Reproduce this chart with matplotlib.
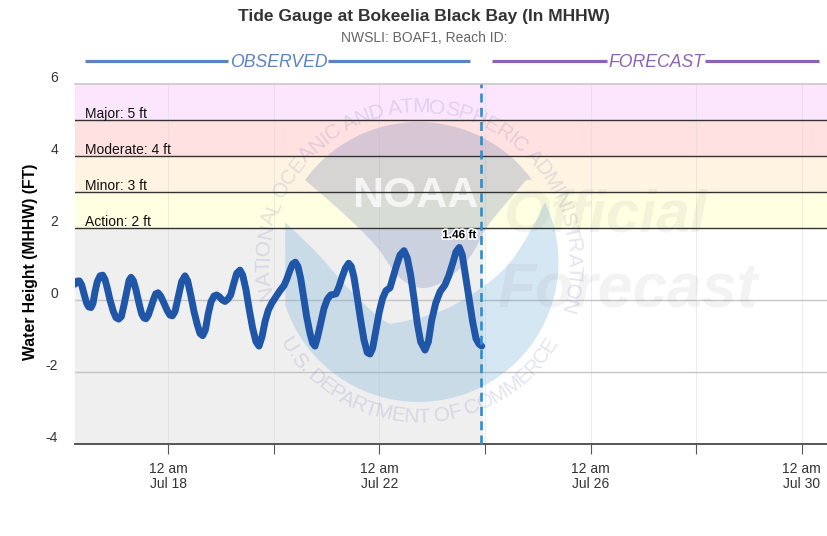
import numpy as np
import matplotlib
matplotlib.use('Agg')
import matplotlib.pyplot as plt
from matplotlib.transforms import Affine2D, ScaledTranslation
from matplotlib.lines import Line2D
from matplotlib.font_manager import FontProperties
from matplotlib.textpath import text_to_path
import matplotlib.patheffects as pe

plt.rcParams['font.family'] = ['Liberation Sans', 'DejaVu Sans']

# days since 12 am Jul 18
obs_days = [-1.765,-1.733,-1.683,-1.639,-1.594,-1.544,-1.506,-1.462,-1.424,-1.386,-1.342,-1.291,-1.241,-1.197,-1.152,-1.102,
            -1.039,-0.988,-0.938,-0.887,-0.837,-0.786,-0.742,-0.704,-0.660,-0.610,-0.553,-0.502,-0.458,-0.420,-0.376,-0.332,
            -0.281,-0.237,-0.193,-0.142,-0.079,-0.016,0.034,0.079,0.129,0.192,0.255,0.318,0.369,0.426,0.489,0.552,
            0.603,0.653,0.704,0.760,0.811,0.868,0.918,0.969,1.026,1.076,1.127,1.184,1.234,1.297,1.360,1.411,
            1.474,1.537,1.600,1.663,1.720,1.777,1.834,1.897,1.960,2.000,2.054,2.117,2.193,2.244,2.307,2.357,
            2.408,2.458,2.509,2.559,2.622,2.686,2.736,2.780,2.831,2.888,2.951,3.014,3.077,3.178,3.235,3.292,
            3.355,3.418,3.468,3.519,3.582,3.645,3.708,3.771,3.822,3.872,3.936,3.999,4.062,4.125,4.201,4.264,
            4.327,4.390,4.466,4.529,4.592,4.655,4.718,4.781,4.864,4.927,4.990,5.066,5.148,5.242,5.318,5.388,
            5.451,5.514,5.570,5.634,5.703,5.766,5.829,5.886,5.937]
obs_height = [0.44,0.52,0.53,0.42,0.17,-0.09,-0.19,-0.21,-0.09,0.23,0.51,0.67,0.69,0.57,0.32,0.00,
              -0.32,-0.49,-0.53,-0.46,-0.14,0.23,0.54,0.63,0.54,0.28,-0.09,-0.39,-0.50,-0.52,-0.42,-0.23,
              0.00,0.17,0.20,0.11,-0.09,-0.30,-0.42,-0.44,-0.32,0.09,0.51,0.67,0.53,0.14,-0.32,-0.69,
              -0.93,-0.99,-0.83,-0.37,-0.05,0.11,0.14,0.09,0.00,-0.04,0.02,0.14,0.42,0.74,0.83,0.69,
              0.28,-0.28,-0.79,-1.16,-1.28,-1.02,-0.60,-0.28,-0.09,0.00,0.12,0.26,0.40,0.57,0.83,1.00,
              1.05,0.93,0.60,0.14,-0.46,-0.93,-1.20,-1.28,-1.02,-0.65,-0.23,0.02,0.14,0.17,0.37,0.63,
              0.88,1.02,0.93,0.63,0.05,-0.56,-1.11,-1.46,-1.50,-1.34,-0.83,-0.32,0.05,0.26,0.34,0.65,
              0.97,1.25,1.37,1.16,0.69,0.05,-0.65,-1.16,-1.39,-1.16,-0.56,-0.09,0.23,0.42,0.69,1.02,
              1.34,1.46,1.25,0.65,0.00,-0.60,-1.07,-1.22,-1.28]
now_day = 5.93
peak_day, peak_value = 5.51, 1.46
flood_levels = [2, 3, 4, 5]
flood_names = ['Action', 'Minor', 'Moderate', 'Major']
flood_colors = ['#ffffe2', '#fff3e1', '#ffe1e1', '#fbe6fd']
y_ticks = [-4, -2, 0, 2, 4, 6]
x_ticks = [0, 2, 4, 6, 8, 10, 12]
x_tick_labels = ['12 am\nJul 18', '', '12 am\nJul 22', '', '12 am\nJul 26', '', '12 am\nJul 30']

W, H = 828, 536
fig = plt.figure(figsize=(W/100, H/100), dpi=100)
ax = fig.add_axes([75/W, 1-444/H, (W-75)/W, 360/H])
ax.set_xlim(-1.765, 12.496)
ax.set_ylim(-4, 6)
px = Affine2D().scale(1, -1).translate(0, H)  # overlay layout in image pixels

# bands
ax.axhspan(-4, 2, xmin=0, xmax=(now_day+0.03+1.765)/(12.496+1.765), color='#efefef', lw=0, zorder=0)
tops = flood_levels[1:] + [6]
for lo, hi, c in zip(flood_levels, tops, flood_colors):
    ax.axhspan(lo, hi, color=c, lw=0, zorder=0)

# grid
for t in x_ticks:
    ax.axvline(t, color='#d8d8d8', lw=0.8, alpha=0.45, zorder=1)
for v in [-2, 0]:
    ax.axhline(v, color='#c4c4c4', lw=1.0, zorder=1)
ax.axhline(6, color='#c8c8c8', lw=1.2, zorder=1, clip_on=False)

# watermark: logo
cx, cy, R = 418.5, 262, 140
def arc(a0, a1, n=60):
    a = np.radians(np.linspace(a0, a1, n))
    return [(cx+R*np.cos(t), cy-R*np.sin(t)) for t in a]
def smooth(pts, n=12):
    p = np.array([pts[0]] + list(pts) + [pts[-1]], float)
    out = []
    for i in range(1, len(p)-2):
        for u in np.linspace(0, 1, n, endpoint=False):
            out.append(0.5*((2*p[i]) + (p[i+1]-p[i-1])*u + (2*p[i-1]-5*p[i]+4*p[i+1]-p[i+2])*u*u
                            + (3*p[i]-p[i-1]-3*p[i+1]+p[i+2])*u**3))
    out.append(p[-2])
    return [tuple(q) for q in out]
top_edge = [(528, 178), (490, 223), (470, 257), (447, 279), (423, 288), (400, 278), (375, 245), (345, 215), (305, 180)]
top_verts = arc(144, 36) + smooth(top_edge)[1:]
ax.add_patch(plt.Polygon(top_verts, closed=True, transform=px, fc=(110/255, 130/255, 180/255), alpha=0.27, lw=0, zorder=2, clip_on=False))
blue_edge = [(545, 202), (527, 237), (500, 273), (450, 307), (400, 322), (383, 320), (350, 290), (317, 253), (285, 222)]
blue_verts = arc(198, 360+25) + smooth(blue_edge)[1:]
ax.add_patch(plt.Polygon(blue_verts, closed=True, transform=px, fc=(95/255, 163/255, 215/255), alpha=0.25, lw=0, zorder=2, clip_on=False))
ax.text(415.5, 196, 'NOAA', transform=px, ha='center', va='center', color='white', alpha=0.75, fontsize=31, fontweight='bold', zorder=2)

ring = FontProperties(family='Liberation Sans', size=15)
def ring_text(s, a0, a1, rot):
    tot = text_to_path.get_text_width_height_descent(s, ring, False)[0]
    for i, ch in enumerate(s):
        w0 = text_to_path.get_text_width_height_descent(s[:i], ring, False)[0] if i else 0
        w1 = text_to_path.get_text_width_height_descent(s[:i+1], ring, False)[0]
        a = a0 + (a1-a0)*(w0+w1)/2/tot
        r = np.radians(a)
        ax.text(cx+155*np.cos(r), cy-155*np.sin(r), ch, transform=px, ha='center', va='center', rotation=a+rot,
                rotation_mode='anchor', fontproperties=ring, color=(90/255, 90/255, 170/255), alpha=0.16, zorder=2, clip_on=False)
ring_text('NATIONAL OCEANIC AND ATMOSPHERIC ADMINISTRATION', 194, -19, -90)
ring_text('U.S. DEPARTMENT OF COMMERCE', 210, 330, 90)

for s, x, y, fs in [('Official', 605, 216, 43.5), ('Forecast', 628, 290, 45)]:
    ax.text(x, y, s, transform=px, ha='center', va='center', fontsize=fs, fontweight='bold', fontstyle='italic',
            color='#808080', alpha=0.09, zorder=2, clip_on=False)

# flood lines & labels
for lv, name in zip(flood_levels, flood_names):
    ax.axhline(lv, color='#333333', lw=1.0, zorder=3)
    ax.annotate(f'{name}: {lv} ft', xy=(0, lv), xycoords=('axes fraction', 'data'), xytext=(7.5, -0.5), textcoords='offset points',
                fontsize=10, color='#111111', ha='left', va='bottom', zorder=4)

# series
ax.plot(obs_days, obs_height, color='#1f56a8', lw=5.0, solid_joinstyle='round', solid_capstyle='round', zorder=5)
ax.axvline(now_day, color='#2a90d2', lw=1.9, dashes=(3.4, 2.0), zorder=6, clip_on=False)
ann = ax.annotate(f'{peak_value} ft', xy=(peak_day, peak_value), xytext=(0, 4.5), textcoords='offset points',
            ha='center', va='bottom', fontsize=8.5, fontweight='bold', color='black', zorder=7)
ann.set_path_effects([pe.withStroke(linewidth=2.5, foreground='white')])

# axes
for s in ['top', 'right', 'left']:
    ax.spines[s].set_visible(False)
ax.spines['bottom'].set_color('#555555')
ax.spines['bottom'].set_linewidth(1.4)
ax.set_xticks(x_ticks, x_tick_labels, fontsize=10, color='#333333', linespacing=1.1)
ax.tick_params(axis='x', length=7.5, width=0.8, color='#555555', pad=5.5)
ax.set_yticks(y_ticks, [str(v) for v in y_ticks], fontsize=10, color='#333333')
ax.tick_params(axis='y', length=0, pad=12.2)
for lab in ax.get_yticklabels():
    lab.set_transform(lab.get_transform() + ScaledTranslation(0, 0.08, fig.dpi_scale_trans))

fig.text(31/W, 1-262/H, 'Water Height (MHHW) (FT)', rotation=90, ha='center', va='center', fontsize=11.3, fontweight='bold', color='black')
fig.text(424/W, 1-16/H, 'Tide Gauge at Bokeelia Black Bay (In MHHW)', ha='center', va='center', fontsize=12.5, fontweight='bold', color='#333333')
fig.text(424/W, 1-37.5/H, 'NWSLI: BOAF1, Reach ID:', ha='center', va='center', fontsize=10, color='#666666')

# period headers
for (a, b, c, d, col, lab, tx) in [(85, 228, 328, 470, '#5b84c4', 'OBSERVED', 278.5), (492, 607, 705, 819, '#8e63b4', 'FORECAST', 656.5)]:
    for x0, x1 in [(a, b), (c, d)]:
        fig.add_artist(Line2D([x0/W, x1/W], [1-61/H, 1-61/H], color=col, lw=2.3, solid_capstyle='butt', transform=fig.transFigure))
    fig.text(tx/W, 1-62/H, lab, ha='center', va='center', fontsize=12.7, fontstyle='italic', color=col)

fig.savefig('out.png', dpi=100)
